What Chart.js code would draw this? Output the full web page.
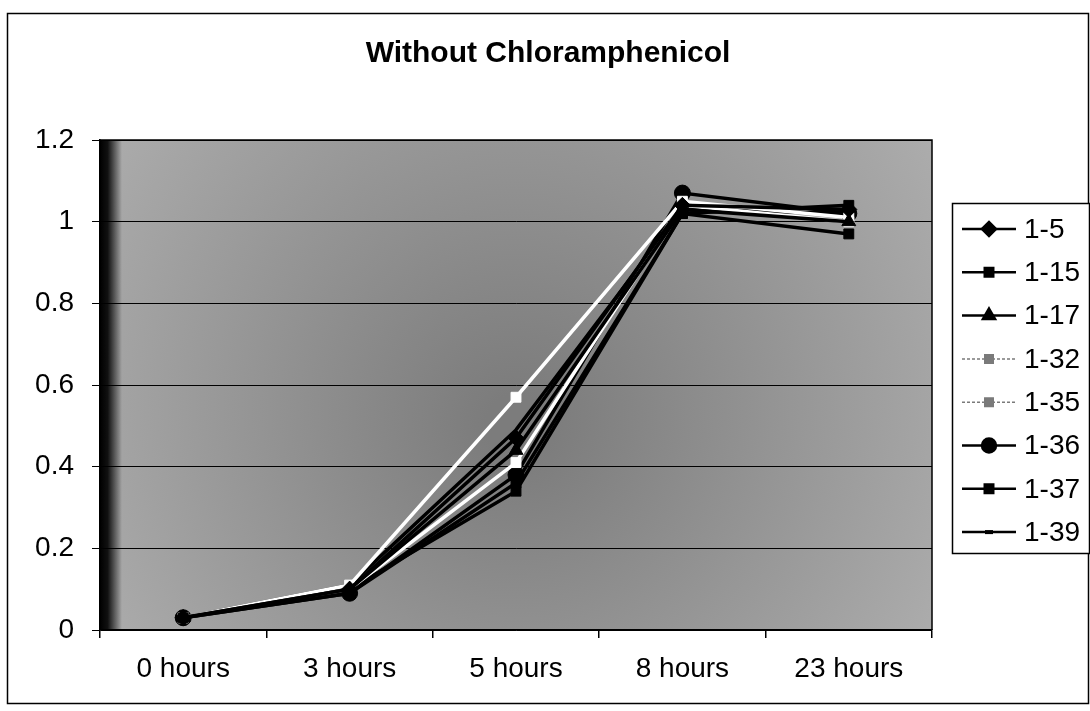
<!DOCTYPE html>
<html>
<head>
<meta charset="utf-8">
<script src="https://cdn.jsdelivr.net/npm/chart.js@4.4.1/dist/chart.umd.min.js"></script>
<style>
html,body{margin:0;padding:0;background:#fff;}
#wrap{width:1090px;height:711px;position:relative;}
</style>
</head>
<body>
<div id="wrap"><canvas id="c" width="1090" height="711"></canvas></div>
<script>
const titleText = "Without Chloramphenicol";
const categories = ["0 hours", "3 hours", "5 hours", "8 hours", "23 hours"];
const seriesNames = ["1-5", "1-15", "1-17", "1-32", "1-35", "1-36", "1-37", "1-39"];
const s1_5  = [0.03, 0.10, 0.47, 1.04, 1.03];
const s1_15 = [0.03, 0.09, 0.36, 1.02, 0.97];
const s1_17 = [0.03, 0.10, 0.44, 1.03, 1.00];
const s1_32 = [0.03, 0.11, 0.57, 1.05, 1.01];
const s1_35 = [0.03, 0.10, 0.41, 1.04, 1.00];
const s1_36 = [0.03, 0.09, 0.38, 1.07, 1.02];
const s1_37 = [0.03, 0.10, 0.34, 1.02, 1.04];
const s1_39 = [0.03, 0.11, 0.49, 1.03, 1.02];
const yTicks = [0, 0.2, 0.4, 0.6, 0.8, 1, 1.2];

const FONT = "'Liberation Sans', Arial, sans-serif";

function ds(label, data, style, white, radius) {
  const c = white ? '#ffffff' : '#000000';
  return {
    label, data,
    borderColor: c, backgroundColor: c,
    pointBackgroundColor: c, pointBorderColor: c,
    pointStyle: style, pointRadius: radius, pointBorderWidth: 1,
    borderWidth: 3.5, tension: 0, fill: false,
    legendWhite: white
  };
}

const datasets = [
  ds(seriesNames[0], s1_5, 'rectRot', false, 8),
  ds(seriesNames[1], s1_15, 'rect', false, 7),
  ds(seriesNames[2], s1_17, 'triangle', false, 8),
  ds(seriesNames[3], s1_32, 'rect', true, 7),
  ds(seriesNames[4], s1_35, 'rect', true, 7),
  ds(seriesNames[5], s1_36, 'circle', false, 8),
  ds(seriesNames[6], s1_37, 'rect', false, 7),
  ds(seriesNames[7], s1_39, 'circle', false, 0),
];

const bgPlugin = {
  id: 'bg',
  beforeDraw(chart) {
    const {ctx, chartArea: a} = chart;
    ctx.save();
    ctx.fillStyle = '#fff';
    ctx.fillRect(0, 0, chart.width, chart.height);
    ctx.strokeStyle = '#000';
    ctx.lineWidth = 1.5;
    ctx.strokeRect(7.5, 13.5, 1081, 690);
    const g = ctx.createRadialGradient((a.left + a.right) / 2, (a.top + a.bottom) / 2 + 40, 30,
      (a.left + a.right) / 2, (a.top + a.bottom) / 2, 520);
    g.addColorStop(0, '#7c7c7c');
    g.addColorStop(1, '#b0b0b0');
    ctx.fillStyle = g;
    ctx.fillRect(a.left, a.top, a.right - a.left, a.bottom - a.top);
    const lg = ctx.createLinearGradient(a.left, 0, a.left + 22, 0);
    lg.addColorStop(0, 'rgba(0,0,0,1)');
    lg.addColorStop(0.35, 'rgba(0,0,0,0.9)');
    lg.addColorStop(1, 'rgba(0,0,0,0)');
    ctx.fillStyle = lg;
    ctx.fillRect(a.left, a.top, 22, a.bottom - a.top);
    ctx.fillStyle = '#000';
    ctx.font = 'bold 30px ' + FONT;
    ctx.textAlign = 'center';
    ctx.textBaseline = 'alphabetic';
    ctx.fillText(titleText, 548, 62);
    ctx.restore();
  },
  afterDraw(chart) {
    const {ctx} = chart;
    ctx.save();
    const a = chart.chartArea;
    ctx.strokeStyle = '#000';
    ctx.lineWidth = 1.5;
    ctx.beginPath();
    ctx.moveTo(a.left, a.top); ctx.lineTo(a.right, a.top); ctx.lineTo(a.right, a.bottom);
    ctx.stroke();
    const lx = 952, ly = 203, lw = 137, lh = 350;
    ctx.fillStyle = '#fff';
    ctx.fillRect(lx, ly, lw, lh);
    ctx.strokeStyle = '#000';
    ctx.lineWidth = 1.5;
    ctx.strokeRect(lx + 0.5, ly + 0.5, lw, lh);
    const step = 43.3;
    chart.data.datasets.forEach((d, i) => {
      const y = 229 + i * step;
      const c = d.legendWhite ? '#7a7a7a' : '#000';
      ctx.strokeStyle = c;
      ctx.lineWidth = d.legendWhite ? 1.5 : 2.5;
      ctx.setLineDash(d.legendWhite ? [3, 2] : []);
      ctx.beginPath();
      ctx.moveTo(962, y); ctx.lineTo(1016, y);
      ctx.stroke();
      ctx.setLineDash([]);
      if (d.pointRadius > 0) {
        ctx.fillStyle = c;
        ctx.strokeStyle = c;
        Chart.helpers.drawPoint(ctx, {pointStyle: d.pointStyle, radius: d.pointRadius - 1, borderWidth: 1, rotation: 0}, 989, y);
      } else {
        ctx.fillStyle = '#000';
        ctx.fillRect(985, y - 2, 8, 4);
      }
      ctx.fillStyle = '#000';
      ctx.font = '28px ' + FONT;
      ctx.textAlign = 'left';
      ctx.textBaseline = 'middle';
      ctx.fillText(d.label, 1024, y + 1);
    });
    ctx.restore();
  }
};

new Chart(document.getElementById('c'), {
  type: 'line',
  data: { labels: categories, datasets },
  options: {
    responsive: false,
    animation: false,
    devicePixelRatio: 1,
    layout: { padding: { left: 0, top: 140, right: 158, bottom: 0 } },
    plugins: { legend: { display: false }, title: { display: false }, tooltip: { enabled: false } },
    scales: {
      x: {
        offset: true,
        afterFit(s) { s.height = 81; },
        grid: { display: true, drawOnChartArea: false, offset: true, tickLength: 8, color: '#000', lineWidth: 1.5 },
        border: { display: true, color: '#000', width: 1.5 },
        ticks: { color: '#000', font: { family: FONT, size: 28 }, padding: 14, maxRotation: 0 }
      },
      y: {
        min: 0, max: 1.2,
        afterFit(s) { s.width = 100; },
        afterBuildTicks(s) { s.ticks = yTicks.map(v => ({ value: v })); },
        grid: { color: '#000', lineWidth: 1, tickLength: 8, tickColor: '#000' },
        border: { display: true, color: '#000', width: 1.5 },
        ticks: { color: '#000', font: { family: FONT, size: 28 }, padding: 18,
          callback: v => String(Math.round(v * 10) / 10) }
      }
    }
  },
  plugins: [bgPlugin]
});
</script>
</body>
</html>
